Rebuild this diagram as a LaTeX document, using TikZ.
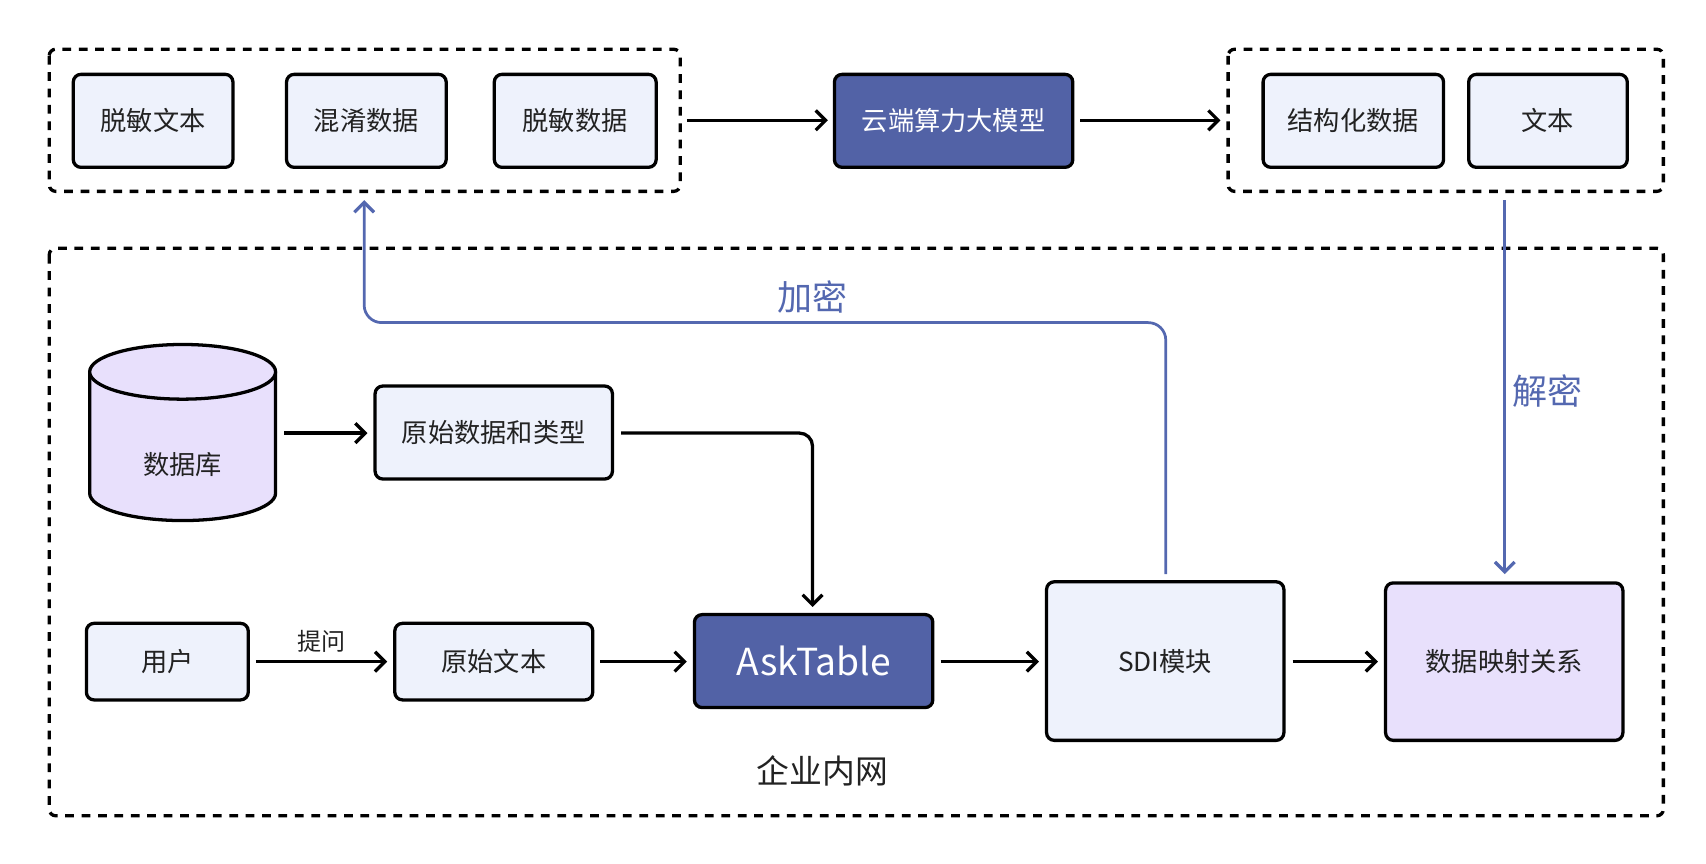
\documentclass[tikz,border=0pt]{standalone}
\usepackage{fontspec}
\setmainfont{Noto Sans CJK SC}
\usetikzlibrary{arrows.meta,shapes.geometric}
\definecolor{lb}{HTML}{EEF2FC}
\definecolor{lp}{HTML}{E8E0FC}
\definecolor{dk}{HTML}{5262A6}
\definecolor{bl}{HTML}{5468B0}
\definecolor{tx}{HTML}{222222}
\begin{document}
\begin{tikzpicture}[x=1pt,y=-1pt,
 box/.style={draw=black,line width=3pt,rounded corners=7pt,fill=lb,text=tx,font=\fontsize{24}{28}\selectfont},
 dbox/.style={draw=black,line width=3pt,dash pattern=on 8pt off 7pt,rounded corners=6pt},
 arr/.style={line width=3pt,-{Straight Barb[length=9pt,width=18pt,line width=3pt]}},
 barr/.style={arr,draw=bl,line width=2.5pt}]
\useasboundingbox (0,0) rectangle (1560,790);
\draw[dbox] (45,45) rectangle (622,175);
\draw[dbox] (1123,45) rectangle (1521,175);
\draw[dbox] (45,227) rectangle (1521,746);
\draw[box] (67,68) rectangle (213,153) node[midway] (a1) {脱敏文本};
\draw[box] (262,68) rectangle (408,153) node[midway] (a2) {混淆数据};
\draw[box] (452,68) rectangle (600,153) node[midway] (a3) {脱敏数据};
\draw[box,fill=dk,text=white] (763,68) rectangle (981,153) node[midway] (cl) {云端算力大模型};
\draw[box] (1155,68) rectangle (1320,153) node[midway] (r1) {结构化数据};
\draw[box] (1343,68) rectangle (1488,153) node[midway] (r2) {文本};
\draw[box] (343,353) rectangle (560,438) node[midway] (raw) {原始数据和类型};
\draw[box] (79,570) rectangle (227,640) node[midway] (user) {用户};
\draw[box] (361,570) rectangle (542,640) node[midway] (rt) {原始文本};
\draw[box,fill=dk,text=white,font=\fontsize{34}{38}\selectfont] (635,562) rectangle (853,647) node[midway] (ask) {AskTable};
\draw[box] (957,532) rectangle (1174,677) node[midway] (sdi) {SDI模块};
\draw[box,fill=lp] (1267,533) rectangle (1484,677) node[midway] (map) {数据映射关系};
% cylinder
\draw[line width=3pt,fill=lp] (82,340) -- (82,451) arc[start angle=180,end angle=0,x radius=85,y radius=25] -- (252,340);
\draw[line width=3pt,fill=lp] (167,340) ellipse[x radius=85,y radius=25];
\node[text=tx,font=\fontsize{24}{28}\selectfont] (db) at (167,425) {数据库};
\coordinate (dbr) at (260,396);
\draw[arr] (dbr) -- (336,396);
\draw[arr] (628,110) -- (757,110);
\draw[arr] (988,110) -- (1116,110);
\draw[arr,rounded corners=12pt] (568,396) -- (743,396) -- (743,555);
\draw[arr] (234,605) -- node[above=4pt,text=tx,font=\fontsize{22}{26}\selectfont]{提问} (354,605);
\draw[arr] (549,605) -- (628,605);
\draw[arr] (860,605) -- (950,605);
\draw[arr] (1182,605) -- (1260,605);
\draw[barr,rounded corners=16pt] (1066,525) -- (1066,295) -- (333,295) -- (333,183);
\node[text=bl,font=\fontsize{32}{36}\selectfont] at (743,272) {加密};
\draw[barr] (1376,183) -- (1376,525);
\node[text=bl,font=\fontsize{32}{36}\selectfont] at (1415,358) {解密};
\node[text=tx,font=\fontsize{30}{34}\selectfont] at (752,705) {企业内网};
\end{tikzpicture}
\end{document}
